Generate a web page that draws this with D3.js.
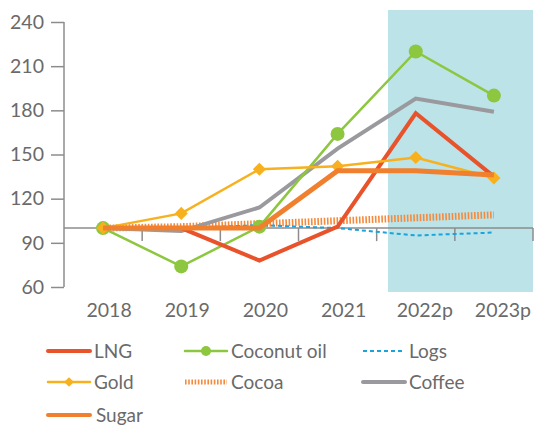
<!DOCTYPE html>
<html lang="en">
<head>
<meta charset="UTF-8">
<title>Commodity price index</title>
<script src="https://cdnjs.cloudflare.com/ajax/libs/d3/7.8.5/d3.min.js"></script>
<style>
  body { margin: 0; background: #fff; }
  text { font-family: Lato, "Open Sans", sans-serif; fill: #6a6a6a; }
  .axis path, .axis line { stroke: #8c8c8c; stroke-width: 1.5; }
  .axis text { font-size: 19.5px; }
  .legend text { font-size: 19px; }
</style>
</head>
<body>
<svg id="chart" width="535" height="426"></svg>
<script>
// --- Data ---
const years = ["2018", "2019", "2020", "2021", "2022p", "2023p"];
const yTicks = [60, 90, 120, 150, 180, 210, 240];

const lng       = [100, 100, 78, 101, 178, 135];
const coconut   = [100, 74, 101, 164, 220, 190];
const logs      = [100, 100, 102, 100, 95, 97];
const gold      = [100, 110, 140, 142, 148, 134];
const cocoa     = [100, 101, 103, 105, 107, 109];
const coffee    = [100, 98, 114, 154, 188, 179];
const sugar     = [100, 100, 100, 139, 139, 136];

const series = [
  { name: "Cocoa", values: cocoa, color: "#f58a3c", width: 7, dash: "1.6,1.6" },
  { name: "Logs", values: logs, color: "#1aa3dc", width: 2, dash: "4,3" },
  { name: "Coffee", values: coffee, color: "#9a9a9e", width: 4 },
  { name: "Coconut oil", values: coconut, color: "#8dc63f", width: 2.5, marker: "circle" },
  { name: "LNG", values: lng, color: "#e8532b", width: 4 },
  { name: "Gold", values: gold, color: "#f7b11e", width: 2.5, marker: "diamond" },
  { name: "Sugar", values: sugar, color: "#f07f2e", width: 5 }
];

// legend layout order
const legendOrder = ["LNG", "Coconut oil", "Logs", "Gold", "Cocoa", "Coffee", "Sugar"];

// --- Setup ---
const svg = d3.select("#chart");
const x = d3.scaleBand().domain(years).range([64, 533]);
const y = d3.scaleLinear().domain([60, 240]).range([287, 22]);
const cx = d => x(d) + x.bandwidth() / 2;

// projection shading (starts a little inside the 2022p band)
svg.append("rect")
  .attr("x", 388)
  .attr("y", 10)
  .attr("width", 533 - 388)
  .attr("height", 282)
  .attr("fill", "#bbe3e8");

// y axis
const yAxis = svg.append("g")
  .attr("class", "axis")
  .attr("transform", "translate(64,0)")
  .call(d3.axisLeft(y).tickValues(yTicks).tickSize(13).tickPadding(7).tickSizeOuter(0));
yAxis.select(".domain").attr("d", `M0,${y(60)}V${y(240)}`);

// x axis at 100
const xAxis = svg.append("g")
  .attr("class", "axis")
  .attr("transform", `translate(0,${y(100)})`)
  .call(d3.axisBottom(x).tickSize(0).tickPadding(0).tickSizeOuter(0));
xAxis.select(".domain").attr("d", `M64,0H533`);
xAxis.selectAll(".tick text")
  .attr("y", 310 - y(100))
  .attr("dy", "0.36em")
  .attr("dx", d => d.endsWith("p") ? 9 : 6);
// band boundary ticks
xAxis.selectAll(".bound")
  .data(years)
  .join("line")
  .attr("x1", (d, i) => x(d) + x.bandwidth())
  .attr("x2", (d, i) => x(d) + x.bandwidth())
  .attr("y1", 0).attr("y2", 13);

// --- Lines ---
const line = d3.line().x((d, i) => cx(years[i])).y(d => y(d));
const diamond = d3.symbol().type(d3.symbolDiamond2);

series.forEach(s => {
  svg.append("path")
    .attr("d", line(s.values))
    .attr("fill", "none")
    .attr("stroke", s.color)
    .attr("stroke-width", s.width)
    .attr("stroke-linejoin", "miter")
    .attr("stroke-dasharray", s.dash || null);
  if (s.marker === "circle") {
    svg.selectAll(null).data(s.values).join("circle")
      .attr("cx", (d, i) => cx(years[i]))
      .attr("cy", d => y(d))
      .attr("r", 7)
      .attr("fill", s.color);
  } else if (s.marker === "diamond") {
    svg.selectAll(null).data(s.values).join("path")
      .attr("transform", (d, i) => `translate(${cx(years[i])},${y(d)})`)
      .attr("d", diamond.size(110)())
      .attr("fill", s.color);
  }
});

// --- Legend ---
const colX = [48, 185, 363];
const rowY = [351, 382, 415];
const legend = svg.append("g").attr("class", "legend");
legendOrder.forEach((name, k) => {
  const s = series.find(d => d.name === name);
  const x0 = colX[k % 3], y0 = rowY[Math.floor(k / 3)];
  const g = legend.append("g").attr("transform", `translate(${x0},${y0})`);
  g.append("line")
    .attr("x1", 0).attr("x2", 42).attr("y1", 0).attr("y2", 0)
    .attr("stroke", s.color)
    .attr("stroke-width", s.name === "Cocoa" ? 5 : Math.min(s.width, 4))
    .attr("stroke-linecap", s.dash ? "butt" : "round")
    .attr("stroke-dasharray", s.dash || null);
  if (s.marker === "circle") {
    g.append("circle").attr("cx", 21).attr("r", 5).attr("fill", s.color);
  } else if (s.marker === "diamond") {
    g.append("path").attr("transform", "translate(21,0)")
      .attr("d", diamond.size(60)()).attr("fill", s.color);
  }
  g.append("text")
    .attr("x", name === "Sugar" ? 48 : 46)
    .attr("y", 0)
    .attr("dy", "0.36em")
    .text(name);
});
</script>
</body>
</html>
